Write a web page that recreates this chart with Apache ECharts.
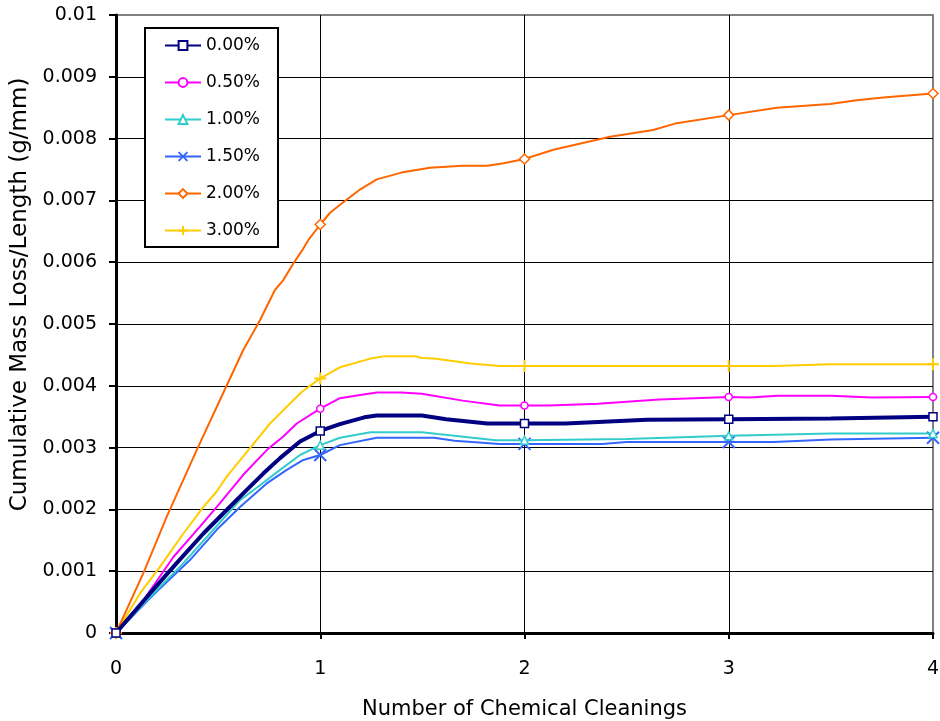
<!DOCTYPE html>
<html>
<head>
<meta charset="utf-8">
<script src="https://cdn.jsdelivr.net/npm/echarts@6/dist/echarts.min.js"></script>
<style>
  html, body { margin: 0; padding: 0; background: #fff; }
  #chart { width: 940px; height: 721px; }
</style>
</head>
<body>
<div id="chart"></div>
<script>
// ---- data (y in g/mm) ----
const seriesNames = ['0.00%', '0.50%', '1.00%', '1.50%', '2.00%', '3.00%'];
const xTicks = [0, 1, 2, 3, 4];

const x000 = [0, 0.166, 0.297, 0.428, 0.542, 0.623, 0.721, 0.803, 0.901, 1.0, 1.096, 1.216, 1.277, 1.497, 1.617, 1.818, 2.0, 2.2, 2.6, 3.0, 3.5, 4.0];
const y000 = [0, 0.00064, 0.00113, 0.00161, 0.00199, 0.00226, 0.00258, 0.00283, 0.00310, 0.00327, 0.00338, 0.00349, 0.00352, 0.00352, 0.00346, 0.00339, 0.00339, 0.00339, 0.00345, 0.00346, 0.00347, 0.00350];

const x050 = [0, 0.134, 0.281, 0.411, 0.509, 0.623, 0.738, 0.819, 0.885, 1.0, 1.096, 1.196, 1.277, 1.397, 1.497, 1.697, 1.878, 2.0, 2.12, 2.36, 2.66, 3.0, 3.1, 3.24, 3.5, 3.7, 4.0];
const y050 = [0, 0.00053, 0.00123, 0.00172, 0.00210, 0.00256, 0.00296, 0.00318, 0.00339, 0.00363, 0.00380, 0.00385, 0.00389, 0.00389, 0.00387, 0.00376, 0.00368, 0.00368, 0.00368, 0.00371, 0.00378, 0.00382, 0.00381, 0.00384, 0.00384, 0.00381, 0.00382];

const x100 = [0, 0.183, 0.33, 0.46, 0.607, 0.705, 0.803, 0.901, 1.0, 1.096, 1.246, 1.497, 1.577, 1.858, 2.0, 2.5, 3.0, 3.5, 4.0];
const y100 = [0, 0.00064, 0.00113, 0.00161, 0.00215, 0.00239, 0.00264, 0.00288, 0.00304, 0.00316, 0.00325, 0.00325, 0.00322, 0.00312, 0.00312, 0.00314, 0.00319, 0.00323, 0.00323];

const x150 = [0, 0.183, 0.362, 0.493, 0.607, 0.738, 0.836, 0.917, 1.0, 1.096, 1.277, 1.557, 1.657, 1.878, 2.0, 2.38, 2.5, 3.0, 3.22, 3.5, 4.0];
const y150 = [0, 0.00062, 0.00118, 0.00167, 0.00204, 0.00242, 0.00264, 0.00280, 0.00288, 0.00304, 0.00316, 0.00316, 0.00311, 0.00306, 0.00306, 0.00306, 0.00309, 0.00309, 0.00309, 0.00313, 0.00316];

const x200 = [0, 0.134, 0.248, 0.395, 0.509, 0.623, 0.705, 0.778, 0.819, 0.868, 0.917, 0.942, 1.0, 1.048, 1.097, 1.196, 1.277, 1.397, 1.537, 1.697, 1.818, 1.898, 2.0, 2.141, 2.419, 2.63, 2.745, 3.0, 3.235, 3.496, 3.626, 3.77, 4.0];
const y200 = [0, 0.00097, 0.00188, 0.00296, 0.00377, 0.00458, 0.00506, 0.00555, 0.00571, 0.00598, 0.00622, 0.00636, 0.00661, 0.00680, 0.00693, 0.00718, 0.00734, 0.00745, 0.00753, 0.00756, 0.00756, 0.00760, 0.00767, 0.00782, 0.00803, 0.00814, 0.00825, 0.00838, 0.00850, 0.00856, 0.00862, 0.00867, 0.00873];

const x300 = [0, 0.1175, 0.215, 0.330, 0.428, 0.493, 0.542, 0.656, 0.754, 0.836, 0.909, 1.0, 1.096, 1.246, 1.317, 1.467, 1.497, 1.557, 1.737, 1.878, 2.0, 3.0, 3.22, 3.5, 4.0];
const y300 = [0, 0.00064, 0.00107, 0.00161, 0.00204, 0.00229, 0.00253, 0.00299, 0.00339, 0.00366, 0.00390, 0.00412, 0.00430, 0.00444, 0.00448, 0.00448, 0.00445, 0.00444, 0.00436, 0.00432, 0.00432, 0.00432, 0.00432, 0.00435, 0.00435];

// ---- styling ----
const FONT = 'DejaVu Sans';
const xs = [x000, x050, x100, x150, x200, x300];
const ys = [y000, y050, y100, y150, y200, y300];
const colors = ['#000080', '#FF00FF', '#33CCCC', '#3366FF', '#FF6600', '#FFCC00'];
const widths = [4, 2, 2, 2, 2, 2];
const symbols = ['rect', 'circle', 'triangle', 'path://M0,0L10,10M10,0L0,10', 'diamond', 'path://M5,0L5,10M0,5L10,5'];
const sizes = [8, 7, 8, 12, 10, 12];

const series = seriesNames.map((name, i) => ({
  name: name,
  type: 'line',
  data: xs[i].map((x, j) => [x, ys[i][j]]),
  symbol: symbols[i],
  symbolSize: (v) => (Number.isInteger(v[0]) ? sizes[i] : 0),
  showAllSymbol: true,
  lineStyle: { color: colors[i], width: widths[i] },
  itemStyle: { color: '#fff', borderColor: colors[i], borderWidth: (i === 3 || i === 5) ? 2 : 1.5 },
  emphasis: { disabled: true },
  z: 10 - i
}));

const chart = echarts.init(document.getElementById('chart'), null, { renderer: 'canvas' });
chart.setOption({
  animation: false,
  backgroundColor: '#fff',
  grid: {
    left: 116, right: 7, top: 15, bottom: 88,
    containLabel: false, outerBoundsMode: 'none',
    show: true, borderColor: '#808080', borderWidth: 2, backgroundColor: '#fff'
  },
  legend: {
    orient: 'vertical',
    left: 145, top: 28,
    backgroundColor: '#fff',
    borderColor: '#000', borderWidth: 2, borderRadius: 0,
    padding: [9, 18, 8, 19],
    itemWidth: 36, itemHeight: 11, itemGap: 20,
    textStyle: { fontFamily: FONT, fontSize: 17, color: '#000' },
    data: seriesNames
  },
  xAxis: {
    type: 'value', min: 0, max: 4, interval: 1,
    name: 'Number of Chemical Cleanings',
    nameLocation: 'middle', nameGap: 66,
    nameTextStyle: { fontFamily: FONT, fontSize: 21, color: '#000' },
    axisLine: { show: true, onZero: false, lineStyle: { color: '#000', width: 3 } },
    axisTick: { show: true, length: 6, lineStyle: { color: '#000', width: 2 } },
    axisLabel: { fontFamily: FONT, fontSize: 19, color: '#000', margin: 27,
      formatter: (v) => String(xTicks[Math.round(v)] !== undefined ? xTicks[Math.round(v)] : v) },
    splitLine: { show: true, showMinLine: false, showMaxLine: false, lineStyle: { color: '#000', width: 1 } }
  },
  yAxis: {
    type: 'value', min: 0, max: 0.01, interval: 0.001,
    name: 'Cumulative Mass Loss/Length (g/mm)',
    nameLocation: 'middle', nameGap: 81,
    nameTextStyle: { fontFamily: FONT, fontSize: 23, color: '#000', padding: [0, 0, 0, 59] },
    axisLine: { show: true, lineStyle: { color: '#000', width: 3 } },
    axisTick: { show: true, length: 7, lineStyle: { color: '#000', width: 2 } },
    axisLabel: { fontFamily: FONT, fontSize: 19, color: '#000', margin: 19,
      formatter: (v) => String(+v.toFixed(3)) },
    splitLine: { show: true, showMinLine: false, showMaxLine: false, lineStyle: { color: '#000', width: 1 } }
  },
  series: series
});
</script>
</body>
</html>
